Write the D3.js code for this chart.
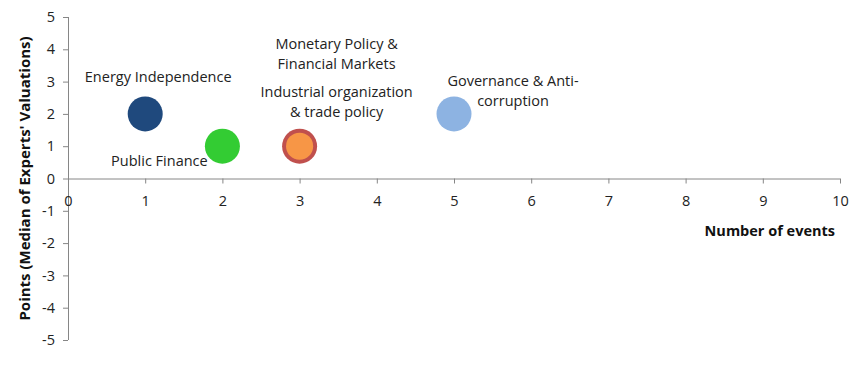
<!DOCTYPE html>
<html><head><meta charset="utf-8">
<script src="https://cdn.jsdelivr.net/npm/d3@7"></script>
<style>body{margin:0;background:#fff;} text{font-family:"Open Sans",sans-serif;}</style>
</head><body>
<svg id="chart" width="863" height="380"></svg>
<script>
const categories = ["Energy Independence","Public Finance","Monetary Policy & Financial Markets","Industrial organization & trade policy","Governance & Anti-corruption"];
const eventCounts = [1,2,3,3,5];
const points = [2,1,1,1,2];
const bubbleSizes = [1,1,1,0.6,1];
const colors = ["#1F497D","#33CC33","#C0504D","#F79646","#8DB3E2"];
const xTicks = [0,1,2,3,4,5,6,7,8,9,10];
const yTicks = [-5,-4,-3,-2,-1,0,1,2,3,4,5];

// label layout (lines, offset from point)
const labelLayout = [
  {lines:["Energy Independence"], dx:13, dy:-32},
  {lines:["Public Finance"], dx:-63, dy:20},
  {lines:["Monetary Policy &","Financial Markets"], dx:37, dy:-97},
  {lines:["Industrial organization","& trade policy"], dx:37, dy:-49},
  {lines:["Governance & Anti-","corruption"], dx:59, dy:-28}
];

const svg = d3.select("#chart");
const x = d3.scaleLinear().domain([0,10]).range([68,840]);
const y = d3.scaleLinear().domain([-5,5]).range([340,17]);
const r = d3.scaleSqrt().domain([0,1]).range([0,17.5]);
const fmt = d => String(d).replace("\u2212","-");

const yAxis = svg.append("g").attr("transform","translate(68,0)")
  .call(d3.axisLeft(y).tickValues(yTicks).tickSize(5).tickPadding(8).tickFormat(fmt));
const xAxis = svg.append("g").attr("transform",`translate(0,${y(0)})`)
  .call(d3.axisBottom(x).tickValues(xTicks).tickSize(5).tickPadding(12).tickFormat(fmt));
[xAxis,yAxis].forEach(g=>{
  g.selectAll("path,line").attr("stroke","#868686");
  g.selectAll("text").attr("font-size",14.5).attr("fill","#222").attr("font-family","Open Sans, sans-serif");
});
xAxis.select(".domain").attr("d",`M68,0.5H840`);
yAxis.select(".domain").attr("d",`M0.5,${y(5)}V${y(-5)}`);

svg.append("text").attr("transform",`translate(30,${y(0)}) rotate(-90)`)
  .attr("text-anchor","middle").attr("font-weight","bold").attr("font-size",15)
  .attr("fill","#111").text("Points (Median of Experts' Valuations)");
svg.append("text").attr("x",835).attr("y",236).attr("text-anchor","end")
  .attr("font-weight","bold").attr("font-size",14.5).attr("fill","#111").text("Number of events");

const data = categories.map((c,i)=>({c,x:eventCounts[i],y:points[i],s:bubbleSizes[i],col:colors[i],lab:labelLayout[i]}));
svg.append("g").selectAll("circle").data(data).join("circle")
  .attr("cx",d=>x(d.x)).attr("cy",d=>y(d.y)).attr("r",d=>r(d.s)).attr("fill",d=>d.col);

const lg = svg.append("g");
data.forEach(d=>{
  const t = lg.append("text").attr("text-anchor","middle").attr("font-size",14.5).attr("fill","#222");
  d.lab.lines.forEach((l,j)=>{
    t.append("tspan").attr("x",x(d.x)+d.lab.dx).attr("y",y(d.y)+d.lab.dy+j*20).text(l);
  });
});
</script>
</body></html>
